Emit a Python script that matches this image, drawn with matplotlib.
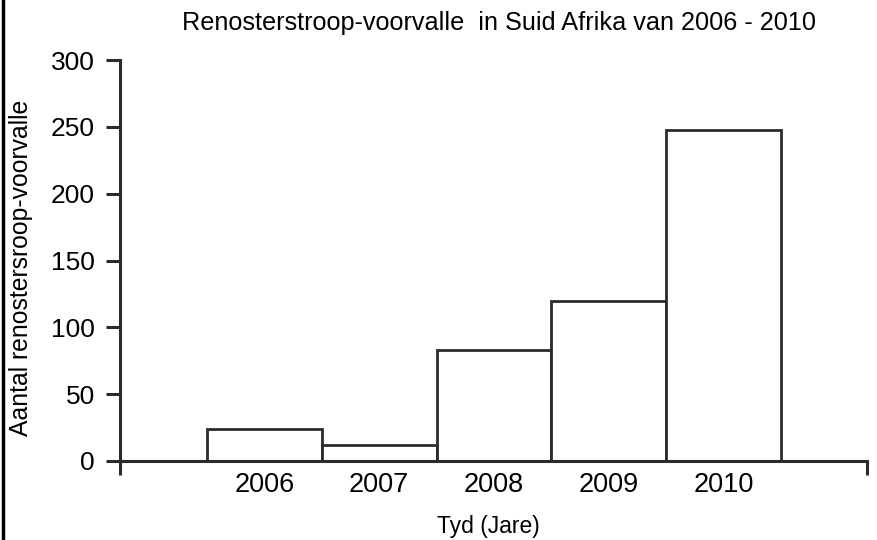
import matplotlib
matplotlib.use("Agg")
import matplotlib.pyplot as plt
from matplotlib.lines import Line2D

years = ["2006", "2007", "2008", "2009", "2010"]
incidents = [24, 12, 83, 120, 248]
y_ticks = [0, 50, 100, 150, 200, 250, 300]

title = "Renosterstroop-voorvalle  in Suid Afrika van 2006 - 2010"
x_label = "Tyd (Jare)"
y_label = "Aantal renostersroop-voorvalle"

plt.rcParams["font.family"] = ["Liberation Sans", "DejaVu Sans"]

ink = "#2b2b2b"
fig = plt.figure(figsize=(8.77, 5.40), dpi=100)
ax = fig.add_axes([120 / 877, 79 / 540, 747 / 877, 401 / 540])

pos = list(range(len(years)))
ax.bar(pos, incidents, width=1.0, facecolor="white", edgecolor=ink,
       linewidth=2.0, zorder=2)

ax.set_xlim(-1.257, 5.248)
ax.set_ylim(0, 300)

ax.spines["top"].set_visible(False)
ax.spines["right"].set_visible(False)
for s in ("left", "bottom"):
    ax.spines[s].set_color(ink)
    ax.spines[s].set_linewidth(2.2)

ax.set_yticks(y_ticks)
ax.tick_params(axis="y", direction="out", length=10, width=2.2, color=ink,
               labelsize=19, pad=8)

# tick marks at both ends of the category axis, labels under each bar
ax.set_xticks([-1.257, 5.248])
ax.set_xticklabels(["", ""])
ax.tick_params(axis="x", which="major", direction="out", length=10, width=2.2,
               color=ink)
ax.set_xticks(pos, minor=True)
ax.set_xticklabels(years, minor=True)
ax.tick_params(axis="x", which="minor", length=0, labelsize=19.5, pad=8)

ax.set_xlabel(x_label, fontsize=16.5)
ax.xaxis.set_label_coords(0.4926, -0.134)
ax.set_ylabel(y_label, fontsize=17.8)
ax.yaxis.set_label_coords(-0.116, 0.481)
fig.text(499 / 877, 1 - 23 / 540, title, ha="center", va="center", fontsize=18.2)

# thin frame line down the left edge of the figure
fig.add_artist(Line2D([3 / 877, 3 / 877], [0, 1], color="black", linewidth=2.5,
                      transform=fig.transFigure))

fig.savefig("out.png", dpi=100, facecolor="white")
